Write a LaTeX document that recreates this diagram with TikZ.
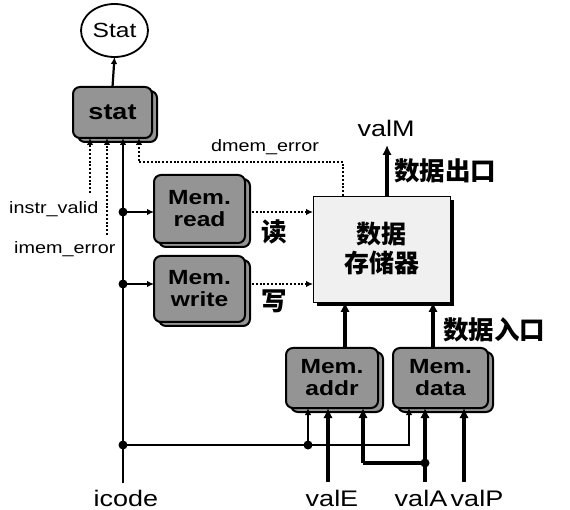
\documentclass[tikz,border=0pt]{standalone}
\usepackage{fontspec}
\setmainfont{Liberation Sans}[FakeStretch=1.2]
\newfontfamily\cjk{Noto Sans CJK SC}
\usetikzlibrary{arrows.meta,shadows,calc,shapes.geometric}
\begin{document}
\begin{tikzpicture}[x=1pt,y=-1pt,
  unit/.style={draw=black, line width=2pt, rounded corners=7pt, fill=black!42,
    font=\fontsize{20.5}{22}\selectfont\bfseries, align=center, inner sep=0pt, outer sep=0pt,
    copy shadow={shadow xshift=5pt, shadow yshift=-4pt}},
  memory/.style={draw=black, line width=0.9pt, fill=black!6, inner sep=0pt, outer sep=0pt,
    font=\cjk\bfseries\fontsize{25}{29}\selectfont, align=center,
    drop shadow={shadow xshift=4pt, shadow yshift=-4pt, fill=black, opacity=1}},
  statell/.style={draw=black, line width=1.8pt, ellipse, inner sep=0pt, outer sep=0pt, font=\fontsize{20.5}{22}\selectfont},
  sig/.style={font=\fontsize{22.5}{24}\selectfont, anchor=base, inner sep=0pt},
  small/.style={font=\fontsize{16.5}{18}\selectfont, anchor=base, inner sep=0pt},
  cn/.style={font=\cjk\bfseries\fontsize{25.5}{28}\selectfont, inner sep=0pt},
  arr/.style={line width=2.2pt, -{Latex[length=7pt,width=6.5pt]}},
  thk/.style={line width=4pt, -{Latex[length=10pt,width=9.5pt]}},
  thkline/.style={line width=4pt},
  dots/.style={line width=2.2pt, dash pattern=on 2pt off 1.8pt},
  dotarr/.style={dots, -{Latex[length=7pt,width=6.5pt]}},
  junction/.style={circle, fill=black, inner sep=0pt, minimum size=9pt}
]
\useasboundingbox (0,0) rectangle (570,510);

% nodes
\node[statell, minimum width=67pt, minimum height=53pt] (Stat) at (114.5,30.5) {Stat};
\node[unit, minimum width=79pt, minimum height=51pt, font=\fontsize{22.5}{24}\selectfont\bfseries] (stat) at (112.5,112.5) {stat};
\node[unit, minimum width=91pt, minimum height=68pt] (read) at (199.5,209) {Mem.\\read};
\node[unit, minimum width=91pt, minimum height=66pt] (write) at (199.5,289) {Mem.\\write};
\node[unit, minimum width=92pt, minimum height=60pt] (addr) at (332,378) {Mem.\\addr};
\node[unit, minimum width=95pt, minimum height=60pt] (data) at (440.5,378) {Mem.\\data};
\node[memory, minimum width=137pt, minimum height=106pt] (dmem) at (381.5,249) {数据\\存储器};

% labels
\node[sig] (icode) at (126,506) {icode};
\node[sig] (valE) at (332,506) {valE};
\node[sig] (valA) at (421,506) {valA};
\node[sig] (valP) at (477,506) {valP};
\node[sig] (valM) at (386,137) {valM};
\node[small, anchor=base west] (iv) at (9,214) {instr\_valid};
\node[small, anchor=base west] (ime) at (14,254) {imem\_error};
\node[small] (dme) at (265,152) {dmem\_error};
\node[cn] (rd) at (274,232) {读};
\node[cn] (wr) at (274,301) {写};
\node[cn] (out) at (445,171) {数据出口};
\node[cn] (in) at (494,330) {数据入口};

% coordinates
\coordinate (ivend) at (90,193);
\coordinate (imend) at (107,235);
\coordinate (ic) at (123,483);
\coordinate (de) at (343,162);
\coordinate (dex) at (139,162);
\coordinate (dsel) at (409,445);
\coordinate (ve) at (328,482);
\coordinate (va) at (425,482);
\coordinate (vp) at (464,482);
\coordinate (vab) at (363,463);
\coordinate (am) at (345,0);
\coordinate (dm) at (433,0);
\coordinate (vm) at (387,145);
\coordinate (rdy) at (0,212);
\coordinate (wry) at (0,284);

% junctions
\node[junction] (j1) at (123,212) {};
\node[junction] (j2) at (123,284) {};
\node[junction] (j3) at (123,445) {};
\node[junction] (j4) at (308,445) {};
\node[junction] (j5) at (425,463) {};

% stat connections
\draw[arr] (stat.north) -- (Stat.south);
\draw[dotarr] (ivend) -- (ivend |- stat.south);
\draw[dotarr] (imend) -- (imend |- stat.south);
\draw[arr] (ic) -- (ic |- stat.south);
\draw[dotarr] (dmem.north -| de) -- (de) -- (dex) -- (dex |- stat.south);

% control
\draw[arr] (j1.center) -- (j1 -| read.west);
\draw[arr] (j2.center) -- (j2 -| write.west);
\draw[dotarr] ([xshift=7pt]read.east |- rdy) -- (dmem.west |- rdy);
\draw[dotarr] ([xshift=7pt]write.east |- wry) -- (dmem.west |- wry);

% icode bus
\draw[arr] (j3.center) -- (dsel) -- (dsel |- data.south);
\draw[arr] (j4.center) -- (j4 |- addr.south);

% data
\draw[thk] (ve) -- (ve |- addr.south);
\draw[thk] (va) -- (va |- data.south);
\draw[thk] (vp) -- (vp |- data.south);
\draw[thkline] (j5.center) -- (vab);
\draw[thk] (vab) -- (vab |- addr.south);
\draw[thk] (addr.north -| am) -- (dmem.south -| am);
\draw[thk] (data.north -| dm) -- (dmem.south -| dm);
\draw[thk] (dmem.north -| vm) -- (vm);
\end{tikzpicture}
\end{document}
